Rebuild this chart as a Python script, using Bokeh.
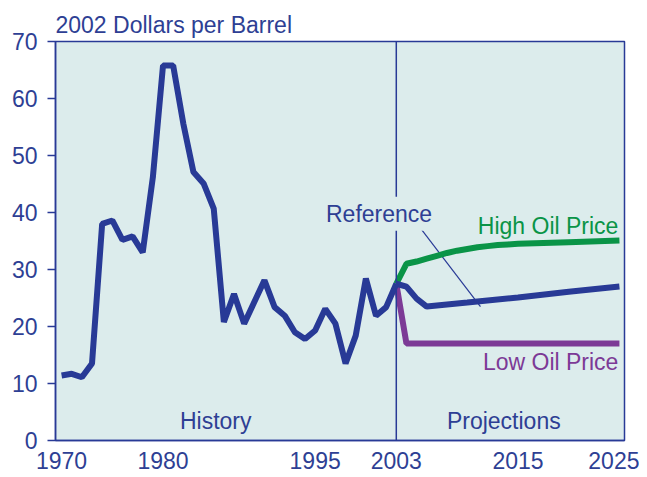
from bokeh.plotting import figure
from bokeh.models import Span, Label, FixedTicker, Range1d
from bokeh.embed import file_html
from bokeh.resources import INLINE

# ---- data ----
hist_years = list(range(1970, 2004))
hist_price = [11.4, 11.7, 11.1, 13.5, 38.0, 38.6, 35.2, 35.8, 33.0, 46.2,
              65.8, 65.8, 55.6, 47.1, 45.1, 40.7, 20.8, 25.7, 20.5, 24.3,
              28.1, 23.4, 21.9, 19.0, 17.8, 19.3, 23.1, 20.5, 13.5, 18.4,
              28.4, 21.9, 23.4, 27.5]

ref_years = [2003, 2004, 2005, 2006, 2010, 2015, 2020, 2025]
ref_price = [27.5, 27.0, 24.9, 23.5, 24.2, 25.1, 26.1, 27.0]

high_years = [2003, 2004, 2005, 2006, 2007, 2008, 2009, 2010, 2011, 2012,
              2013, 2014, 2015, 2020, 2025]
high_price = [27.5, 31.0, 31.4, 31.9, 32.4, 32.9, 33.3, 33.6, 33.9, 34.1,
              34.3, 34.4, 34.5, 34.8, 35.1]

low_years = [2003, 2004, 2010, 2015, 2020, 2025]
low_price = [27.5, 17.0, 17.0, 17.0, 17.0, 17.0]

x_ticks = [1970, 1980, 1995, 2003, 2015, 2025]
y_ticks = [0, 10, 20, 30, 40, 50, 60, 70]
divider_year = 2003

ref_pointer_x = [2005.1, 2011.3]
ref_pointer_y = [37.9, 23.5]

labels = {
    "History": (1985.2, 3.5),
    "Projections": (2013.6, 3.5),
    "Reference": (2001.3, 39.8),
    "High Oil Price": (2024.9, 37.7),
    "Low Oil Price": (2024.9, 13.7),
}

# ---- styles ----
BLUE = "#283a96"
TEXT = "#2e3f94"
GREEN = "#0a9447"
PURPLE = "#7c3a96"
BG = "#dcecec"
FONT = "Liberation Sans"
FS = "23px"

p = figure(width=639, height=477, output_backend="svg", toolbar_location=None,
           x_range=Range1d(1969.4, 2025.5), y_range=Range1d(0, 70),
           min_border_left=55, min_border_right=15, min_border_top=41,
           min_border_bottom=37)
p.background_fill_color = BG
p.border_fill_color = "white"
p.outline_line_color = BLUE
p.outline_line_width = 1.5
p.grid.visible = False

p.title.text = "2002 Dollars per Barrel"
p.title.text_font = FONT
p.title.text_font_size = FS
p.title.text_font_style = "normal"
p.title.text_color = TEXT
p.title.align = "left"
p.title.offset = 0
p.title.standoff = 8

p.xaxis.ticker = FixedTicker(ticks=x_ticks)
p.yaxis.ticker = FixedTicker(ticks=y_ticks)
for ax in (p.xaxis, p.yaxis):
    ax.axis_line_color = BLUE
    ax.axis_line_width = 1.5
    ax.major_tick_line_color = BLUE
    ax.major_tick_line_width = 1.5
    ax.minor_tick_line_color = None
    ax.major_label_text_font = FONT
    ax.major_label_text_font_size = FS
    ax.major_label_text_color = TEXT
p.xaxis.major_tick_out = 0
p.xaxis.major_tick_in = 0
p.xaxis.major_label_standoff = 11
p.yaxis.major_tick_out = 8
p.yaxis.major_tick_in = 0
p.yaxis.major_label_standoff = 10

p.add_layout(Span(location=divider_year, dimension="height",
                  line_color=BLUE, line_width=1.5))

p.segment(x0=[ref_pointer_x[0]], y0=[ref_pointer_y[0]],
          x1=[ref_pointer_x[1]], y1=[ref_pointer_y[1]],
          line_color=BLUE, line_width=1.2)

p.line(high_years, high_price, line_color=GREEN, line_width=6)
p.line(low_years, low_price, line_color=PURPLE, line_width=6)
p.line(ref_years, ref_price, line_color=BLUE, line_width=6)
p.line(hist_years, hist_price, line_color=BLUE, line_width=6)

styles = {
    "History": (TEXT, "center"),
    "Projections": (TEXT, "center"),
    "Reference": (TEXT, "center"),
    "High Oil Price": (GREEN, "right"),
    "Low Oil Price": (PURPLE, "right"),
}
for txt, (lx, ly) in labels.items():
    col, al = styles[txt]
    lab = Label(x=lx, y=ly, text=txt, text_font=FONT, text_font_size=FS,
                text_color=col, text_align=al, text_baseline="middle")
    if txt == "Reference":
        lab.background_fill_color = BG
        lab.padding = 4
    p.add_layout(lab)

open("out.html", "w").write(file_html(p, INLINE))
